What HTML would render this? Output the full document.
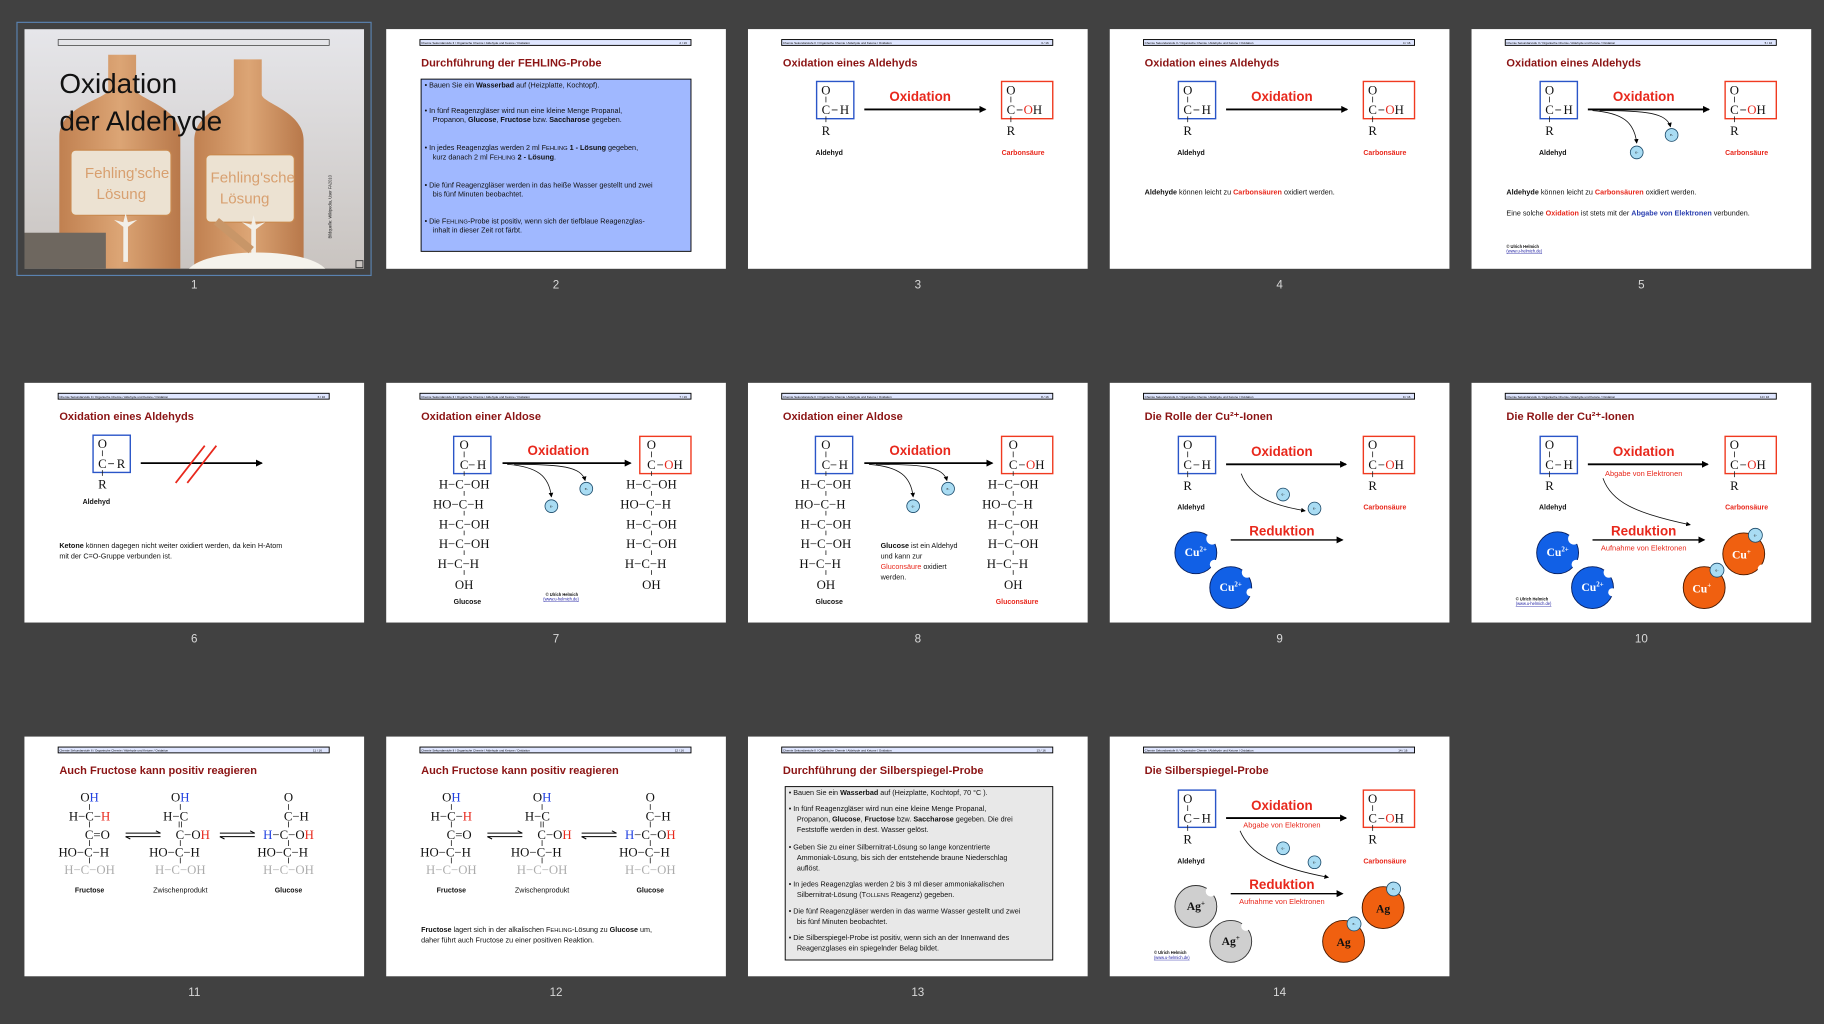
<!DOCTYPE html>
<html><head><meta charset="utf-8"><style>
html,body{margin:0;padding:0;background:#414141;overflow:hidden}
svg{display:block}
text{font-family:"Liberation Sans",sans-serif}
.m text{font-family:"Liberation Serif",serif;font-size:11px;fill:#111}
.m path,.m line{stroke:#222;stroke-width:.7;fill:none}
.t{font-size:9.5px;font-weight:bold;fill:#8b1414}
.hb{fill:#dfe6ff;stroke:#000;stroke-width:.8}
.ht{font-size:2.6px;fill:#000}
.b{font-size:6.2px;fill:#111}
.lab{font-size:6px;font-weight:bold;fill:#111}
.red{fill:#e8281c}
.lab.red{fill:#e8281c}
.blu{fill:#2a3fb0}
.ox{font-size:11.5px;font-weight:bold;fill:#e8281c}
.sub{font-size:6.4px;fill:#e8281c}
.num{font-size:10px;fill:#d8d8d8;text-anchor:middle}
.ar{stroke:#000;stroke-width:1.6;fill:none}
.cv{stroke:#111;stroke-width:.7;fill:none}
.ec{fill:#a9dcf3;stroke:#1b4a6a;stroke-width:.7}
.et{font-size:3px;fill:#222;text-anchor:middle}
.cu{fill:#1160e6;stroke:#082060;stroke-width:.8}
.cuo{fill:#f06010;stroke:#4a1a00;stroke-width:.8}
.ag{fill:#cfcfcf;stroke:#333;stroke-width:.8}
.ct{font-family:"Liberation Serif",serif;font-size:10px;font-weight:bold;text-anchor:middle}
.cp{font-size:3.5px;font-weight:bold;fill:#111}
.cl{font-size:3.5px;fill:#1a1aa0;text-decoration:underline}
.fd{opacity:.35}
</style></head><body>
<svg width="1824" height="1024" viewBox="0 0 1568 880" preserveAspectRatio="none" xmlns="http://www.w3.org/2000/svg">
<defs>
<marker id="ah" markerWidth="6" markerHeight="6" refX="5" refY="3" orient="auto" markerUnits="userSpaceOnUse"><path d="M0,0 L6,3 L0,6z" fill="#000"/></marker>
<marker id="as" markerWidth="4" markerHeight="4" refX="3.5" refY="2" orient="auto" markerUnits="userSpaceOnUse"><path d="M0,0 L4,2 L0,4z" fill="#000"/></marker>
<linearGradient id="bg1" x1="0" y1="0" x2="0" y2="1"><stop offset="0" stop-color="#e6e6ea"/><stop offset="1" stop-color="#c9c4c0"/></linearGradient>
<linearGradient id="bot" x1="0" y1="0" x2="1" y2="0"><stop offset="0" stop-color="#c08050"/><stop offset=".5" stop-color="#dca575"/><stop offset="1" stop-color="#b8784a"/></linearGradient>
<clipPath id="c1"><rect width="292" height="206"/></clipPath>
</defs>

<rect x="14.6" y="19.2" width="304.4" height="217.5" fill="none" stroke="#5a82b0" stroke-width="1"/>

<!-- SLIDE 1 -->
<g transform="translate(21,25)" clip-path="url(#c1)">
<rect width="292" height="206" fill="url(#bg1)"/>
<path d="M72 22h24v30c0 8 38 14 38 40v114H30V92c0-26 42-32 42-40z" fill="url(#bot)"/>
<path d="M180 26h24v30c0 8 36 14 36 40v110H146V96c0-26 34-32 34-40z" fill="url(#bot)"/>
<rect x="40" y="104" width="86" height="56" rx="4" fill="#ece2d2" stroke="#c98a50"/>
<rect x="156" y="108" width="76" height="58" rx="4" fill="#ece2d2" stroke="#c98a50"/>
<text x="52" y="128" font-size="13" fill="#d8a070" font-family="Liberation Serif">Fehling'sche</text>
<text x="62" y="146" font-size="13" fill="#d8a070" font-family="Liberation Serif">Lösung</text>
<text x="160" y="132" font-size="13" fill="#d8a070" font-family="Liberation Serif">Fehling'sche</text>
<text x="168" y="150" font-size="13" fill="#d8a070" font-family="Liberation Serif">Lösung</text>
<path d="M85 170l-8 -6 8 2 2-8 2 8 8-2-8 6v30h-4z" fill="#f2efe8"/>
<path d="M195 172l-8 -6 8 2 2-8 2 8 8-2-8 6v28h-4z" fill="#f2efe8"/>
<rect x="0" y="175" width="70" height="31" fill="#6e675f"/>
<ellipse cx="200" cy="210" rx="60" ry="18" fill="#f5f3ec"/>
<path d="M165 165l30 25" stroke="#c89668" stroke-width="7"/>
<rect x="29" y="9" width="233" height="5" fill="none" stroke="#333" stroke-width=".6"/>
<text x="30" y="55" font-size="24" fill="#111">Oxidation</text>
<text x="30" y="87" font-size="24" fill="#111">der Aldehyde</text>
<text transform="translate(264,180) rotate(-90)" font-size="3.5" fill="#222">Bildquelle: Wikipedia, User FA2010</text>
<rect x="285" y="199" width="6" height="6" fill="none" stroke="#333" stroke-width=".8"/>
</g>
<text class="num" x="167" y="248">1</text>

<!-- SLIDE 2 -->
<g transform="translate(332,25)">
<rect width="292" height="206" fill="#fff"/>
<rect class="hb" x="29" y="9" width="233" height="5"/><text class="ht" x="30" y="13">Chemie Sekundarstufe II / Organische Chemie / Aldehyde und Ketone / Oxidation</text><text class="ht" x="252" y="13">2 / 16</text>
<text class="t" x="30" y="32">Durchführung der FEHLING-Probe</text>
<rect x="30" y="43" width="232" height="148" fill="#a0b8ff" stroke="#000" stroke-width=".8"/>
<g class="b">
<text x="33" y="50">•  Bauen Sie ein <tspan font-weight="bold">Wasserbad</tspan> auf (Heizplatte, Kochtopf).</text>
<text x="33" y="72">•  In fünf Reagenzgläser wird nun eine kleine Menge Propanal,</text>
<text x="40" y="80">Propanon, <tspan font-weight="bold">Glucose</tspan>, <tspan font-weight="bold">Fructose</tspan> bzw. <tspan font-weight="bold">Saccharose</tspan> gegeben.</text>
<text x="33" y="104">•  In jedes Reagenzglas werden 2 ml F<tspan font-size="5">EHLING</tspan> <tspan font-weight="bold">1 - Lösung</tspan> gegeben,</text>
<text x="40" y="112">kurz danach 2 ml F<tspan font-size="5">EHLING</tspan> <tspan font-weight="bold">2 - Lösung</tspan>.</text>
<text x="33" y="136">•  Die fünf Reagenzgläser werden in das heiße Wasser gestellt und zwei</text>
<text x="40" y="144">bis fünf Minuten beobachtet.</text>
<text x="33" y="167">•  Die F<tspan font-size="5">EHLING</tspan>-Probe ist positiv, wenn sich der tiefblaue Reagenzglas-</text>
<text x="40" y="175">inhalt in dieser Zeit rot färbt.</text>
</g>
</g>
<text class="num" x="478" y="248">2</text>

<!-- SLIDE 3 -->
<g transform="translate(643,25)">
<rect width="292" height="206" fill="#fff"/>
<rect class="hb" x="29" y="9" width="233" height="5"/><text class="ht" x="30" y="13">Chemie Sekundarstufe II / Organische Chemie / Aldehyde und Ketone / Oxidation</text><text class="ht" x="252" y="13">3 / 16</text>
<text class="t" x="30" y="32">Oxidation eines Aldehyds</text>
<g class="m" transform="translate(59,45)"><rect width="32" height="32" fill="none" stroke="#2a55c8" stroke-width="1.2"/><text x="8" y="11" text-anchor="middle">O</text><path d="M8 13v5M8 30v5M13 24.5h5"/><text x="8" y="28" text-anchor="middle">C</text><text x="24" y="28" text-anchor="middle">H</text><text x="8" y="46" text-anchor="middle">R</text></g>
<g class="m" transform="translate(218,45)"><rect width="44" height="32" fill="none" stroke="#f03a20" stroke-width="1.2"/><text x="8" y="11" text-anchor="middle">O</text><path d="M8 13v5M8 30v5M13 24.5h5"/><text x="8" y="28" text-anchor="middle">C</text><text x="19" y="28"><tspan style="fill:#e8281c">O</tspan>H</text><text x="8" y="46" text-anchor="middle">R</text></g>
<line class="ar" x1="100" y1="69" x2="204" y2="69" marker-end="url(#ah)"/>
<text class="ox" x="148" y="62" text-anchor="middle">Oxidation</text>
<text class="lab" x="58" y="108">Aldehyd</text><text class="lab red" x="218" y="108">Carbonsäure</text>
</g>
<text class="num" x="789" y="248">3</text>

<!-- SLIDE 4 -->
<g transform="translate(954,25)">
<rect width="292" height="206" fill="#fff"/>
<rect class="hb" x="29" y="9" width="233" height="5"/><text class="ht" x="30" y="13">Chemie Sekundarstufe II / Organische Chemie / Aldehyde und Ketone / Oxidation</text><text class="ht" x="252" y="13">4 / 16</text>
<text class="t" x="30" y="32">Oxidation eines Aldehyds</text>
<g class="m" transform="translate(59,45)"><rect width="32" height="32" fill="none" stroke="#2a55c8" stroke-width="1.2"/><text x="8" y="11" text-anchor="middle">O</text><path d="M8 13v5M8 30v5M13 24.5h5"/><text x="8" y="28" text-anchor="middle">C</text><text x="24" y="28" text-anchor="middle">H</text><text x="8" y="46" text-anchor="middle">R</text></g>
<g class="m" transform="translate(218,45)"><rect width="44" height="32" fill="none" stroke="#f03a20" stroke-width="1.2"/><text x="8" y="11" text-anchor="middle">O</text><path d="M8 13v5M8 30v5M13 24.5h5"/><text x="8" y="28" text-anchor="middle">C</text><text x="19" y="28"><tspan style="fill:#e8281c">O</tspan>H</text><text x="8" y="46" text-anchor="middle">R</text></g>
<line class="ar" x1="100" y1="69" x2="204" y2="69" marker-end="url(#ah)"/>
<text class="ox" x="148" y="62" text-anchor="middle">Oxidation</text>
<text class="lab" x="58" y="108">Aldehyd</text><text class="lab red" x="218" y="108">Carbonsäure</text>
<text class="b" x="30" y="142"><tspan font-weight="bold">Aldehyde</tspan> können leicht zu <tspan class="red" font-weight="bold">Carbonsäuren</tspan> oxidiert werden.</text>
</g>
<text class="num" x="1100" y="248">4</text>

<!-- SLIDE 5 -->
<g transform="translate(1265,25)">
<rect width="292" height="206" fill="#fff"/>
<rect class="hb" x="29" y="9" width="233" height="5"/><text class="ht" x="30" y="13">Chemie Sekundarstufe II / Organische Chemie / Aldehyde und Ketone / Oxidation</text><text class="ht" x="252" y="13">5 / 16</text>
<text class="t" x="30" y="32">Oxidation eines Aldehyds</text>
<g class="m" transform="translate(59,45)"><rect width="32" height="32" fill="none" stroke="#2a55c8" stroke-width="1.2"/><text x="8" y="11" text-anchor="middle">O</text><path d="M8 13v5M8 30v5M13 24.5h5"/><text x="8" y="28" text-anchor="middle">C</text><text x="24" y="28" text-anchor="middle">H</text><text x="8" y="46" text-anchor="middle">R</text></g>
<g class="m" transform="translate(218,45)"><rect width="44" height="32" fill="none" stroke="#f03a20" stroke-width="1.2"/><text x="8" y="11" text-anchor="middle">O</text><path d="M8 13v5M8 30v5M13 24.5h5"/><text x="8" y="28" text-anchor="middle">C</text><text x="19" y="28"><tspan style="fill:#e8281c">O</tspan>H</text><text x="8" y="46" text-anchor="middle">R</text></g>
<line class="ar" x1="100" y1="69" x2="204" y2="69" marker-end="url(#ah)"/>
<text class="ox" x="148" y="62" text-anchor="middle">Oxidation</text>
<path class="cv" d="M104 70 C130 72 140 80 142 98" marker-end="url(#as)"/>
<path class="cv" d="M110 70 C150 70 168 72 171 84" marker-end="url(#as)"/>
<circle class="ec" cx="142" cy="106" r="5.5"/><text class="et" x="142" y="107">e-</text>
<circle class="ec" cx="172" cy="91" r="5.5"/><text class="et" x="172" y="92">e-</text>
<text class="lab" x="58" y="108">Aldehyd</text><text class="lab red" x="218" y="108">Carbonsäure</text>
<text class="b" x="30" y="142"><tspan font-weight="bold">Aldehyde</tspan> können leicht zu <tspan class="red" font-weight="bold">Carbonsäuren</tspan> oxidiert werden.</text>
<text class="b" x="30" y="160">Eine solche <tspan class="red" font-weight="bold">Oxidation</tspan> ist stets mit der <tspan class="blu" font-weight="bold">Abgabe von Elektronen</tspan> verbunden.</text>
<text class="cp" x="30" y="188">© Ulrich Helmich</text><text class="cl" x="30" y="192">(www.u-helmich.de)</text>
</g>
<text class="num" x="1411" y="248">5</text>

<!-- SLIDE 6 -->
<g transform="translate(21,329)">
<rect width="292" height="206" fill="#fff"/>
<rect class="hb" x="29" y="9" width="233" height="5"/><text class="ht" x="30" y="13">Chemie Sekundarstufe II / Organische Chemie / Aldehyde und Ketone / Oxidation</text><text class="ht" x="252" y="13">6 / 16</text>
<text class="t" x="30" y="32">Oxidation eines Aldehyds</text>
<g class="m" transform="translate(59,45)"><rect width="32" height="32" fill="none" stroke="#2a55c8" stroke-width="1.2"/><text x="8" y="11" text-anchor="middle">O</text><path d="M8 13v5M8 30v5M13 24.5h5"/><text x="8" y="28" text-anchor="middle">C</text><text x="24" y="28" text-anchor="middle">R</text><text x="8" y="46" text-anchor="middle">R</text></g>
<line class="ar" x1="100" y1="69" x2="204" y2="69" marker-end="url(#ah)"/>
<path d="M130 86L155 54M140 86L165 54" stroke="#e8281c" stroke-width="1.5"/>
<text class="lab" x="50" y="104">Aldehyd</text>
<text class="b" x="30" y="142"><tspan font-weight="bold">Ketone</tspan> können dagegen nicht weiter oxidiert werden, da kein H-Atom</text>
<text class="b" x="30" y="151">mit der C=O-Gruppe verbunden ist.</text>
</g>
<text class="num" x="167" y="552">6</text>

<!-- SLIDE 7 -->
<g transform="translate(332,329)">
<rect width="292" height="206" fill="#fff"/>
<rect class="hb" x="29" y="9" width="233" height="5"/><text class="ht" x="30" y="13">Chemie Sekundarstufe II / Organische Chemie / Aldehyde und Ketone / Oxidation</text><text class="ht" x="252" y="13">7 / 16</text>
<text class="t" x="30" y="32">Oxidation einer Aldose</text>
<g class="m" transform="translate(58,46)"><rect width="32" height="32" fill="none" stroke="#2a55c8" stroke-width="1.2"/><text x="9" y="11" text-anchor="middle">O</text><path d="M9 13v5M13 24.5h5M9 30v4M9 47v4M9 64v4M9 81v4M9 98v4M9 115v4"/><text x="9" y="28" text-anchor="middle">C</text><text x="24" y="28" text-anchor="middle">H</text>
<text x="9" y="45" text-anchor="middle">H−C−OH</text><text x="4" y="62" text-anchor="middle">HO−C−H</text><text x="9" y="79" text-anchor="middle">H−C−OH</text><text x="9" y="96" text-anchor="middle">H−C−OH</text><text x="4" y="113" text-anchor="middle">H−C−H</text><text x="9" y="131" text-anchor="middle">OH</text></g>
<g class="m" transform="translate(218,46)"><rect width="44" height="32" fill="none" stroke="#f03a20" stroke-width="1.2"/><text x="10" y="11" text-anchor="middle">O</text><path d="M10 13v5M15 24.5h5M10 30v4M10 47v4M10 64v4M10 81v4M10 98v4M10 115v4"/><text x="10" y="28" text-anchor="middle">C</text><text x="21" y="28"><tspan style="fill:#e8281c">O</tspan>H</text>
<text x="10" y="45" text-anchor="middle">H−C−OH</text><text x="5" y="62" text-anchor="middle">HO−C−H</text><text x="10" y="79" text-anchor="middle">H−C−OH</text><text x="10" y="96" text-anchor="middle">H−C−OH</text><text x="5" y="113" text-anchor="middle">H−C−H</text><text x="10" y="131" text-anchor="middle">OH</text></g>
<line class="ar" x1="100" y1="69" x2="210" y2="69" marker-end="url(#ah)"/>
<text class="ox" x="148" y="62" text-anchor="middle">Oxidation</text>
<path class="cv" d="M104 70 C130 72 140 80 142 98" marker-end="url(#as)"/>
<path class="cv" d="M110 70 C150 70 168 72 171 84" marker-end="url(#as)"/>
<circle class="ec" cx="142" cy="106" r="5.5"/><text class="et" x="142" y="107">e-</text>
<circle class="ec" cx="172" cy="91" r="5.5"/><text class="et" x="172" y="92">e-</text>
<text class="lab" x="58" y="190">Glucose</text>
<text class="cp" x="137" y="183">© Ulrich Helmich</text><text class="cl" x="135" y="187">(www.u-helmich.de)</text>
</g>
<text class="num" x="478" y="552">7</text>

<!-- SLIDE 8 -->
<g transform="translate(643,329)">
<rect width="292" height="206" fill="#fff"/>
<rect class="hb" x="29" y="9" width="233" height="5"/><text class="ht" x="30" y="13">Chemie Sekundarstufe II / Organische Chemie / Aldehyde und Ketone / Oxidation</text><text class="ht" x="252" y="13">8 / 16</text>
<text class="t" x="30" y="32">Oxidation einer Aldose</text>
<g class="m" transform="translate(58,46)"><rect width="32" height="32" fill="none" stroke="#2a55c8" stroke-width="1.2"/><text x="9" y="11" text-anchor="middle">O</text><path d="M9 13v5M13 24.5h5M9 30v4M9 47v4M9 64v4M9 81v4M9 98v4M9 115v4"/><text x="9" y="28" text-anchor="middle">C</text><text x="24" y="28" text-anchor="middle">H</text>
<text x="9" y="45" text-anchor="middle">H−C−OH</text><text x="4" y="62" text-anchor="middle">HO−C−H</text><text x="9" y="79" text-anchor="middle">H−C−OH</text><text x="9" y="96" text-anchor="middle">H−C−OH</text><text x="4" y="113" text-anchor="middle">H−C−H</text><text x="9" y="131" text-anchor="middle">OH</text></g>
<g class="m" transform="translate(218,46)"><rect width="44" height="32" fill="none" stroke="#f03a20" stroke-width="1.2"/><text x="10" y="11" text-anchor="middle">O</text><path d="M10 13v5M15 24.5h5M10 30v4M10 47v4M10 64v4M10 81v4M10 98v4M10 115v4"/><text x="10" y="28" text-anchor="middle">C</text><text x="21" y="28"><tspan style="fill:#e8281c">O</tspan>H</text>
<text x="10" y="45" text-anchor="middle">H−C−OH</text><text x="5" y="62" text-anchor="middle">HO−C−H</text><text x="10" y="79" text-anchor="middle">H−C−OH</text><text x="10" y="96" text-anchor="middle">H−C−OH</text><text x="5" y="113" text-anchor="middle">H−C−H</text><text x="10" y="131" text-anchor="middle">OH</text></g>
<line class="ar" x1="100" y1="69" x2="210" y2="69" marker-end="url(#ah)"/>
<text class="ox" x="148" y="62" text-anchor="middle">Oxidation</text>
<path class="cv" d="M104 70 C130 72 140 80 142 98" marker-end="url(#as)"/>
<path class="cv" d="M110 70 C150 70 168 72 171 84" marker-end="url(#as)"/>
<circle class="ec" cx="142" cy="106" r="5.5"/><text class="et" x="142" y="107">e-</text>
<circle class="ec" cx="172" cy="91" r="5.5"/><text class="et" x="172" y="92">e-</text>
<g class="b"><text x="114" y="142"><tspan font-weight="bold">Glucose</tspan> ist ein Aldehyd</text><text x="114" y="151">und kann zur</text><text x="114" y="160"><tspan style="fill:#e8281c">Gluconsäure</tspan> oxidiert</text><text x="114" y="169">werden.</text></g>
<text class="lab" x="58" y="190">Glucose</text><text class="lab red" x="213" y="190">Gluconsäure</text>
</g>
<text class="num" x="789" y="552">8</text>

<!-- SLIDE 9 -->
<g transform="translate(954,329)">
<rect width="292" height="206" fill="#fff"/>
<rect class="hb" x="29" y="9" width="233" height="5"/><text class="ht" x="30" y="13">Chemie Sekundarstufe II / Organische Chemie / Aldehyde und Ketone / Oxidation</text><text class="ht" x="252" y="13">9 / 16</text>
<text class="t" x="30" y="32">Die Rolle der Cu²⁺-Ionen</text>
<g class="m" transform="translate(59,46)"><rect width="32" height="32" fill="none" stroke="#2a55c8" stroke-width="1.2"/><text x="8" y="11" text-anchor="middle">O</text><path d="M8 13v5M8 30v5M13 24.5h5"/><text x="8" y="28" text-anchor="middle">C</text><text x="24" y="28" text-anchor="middle">H</text><text x="8" y="46" text-anchor="middle">R</text></g>
<g class="m" transform="translate(218,46)"><rect width="44" height="32" fill="none" stroke="#f03a20" stroke-width="1.2"/><text x="8" y="11" text-anchor="middle">O</text><path d="M8 13v5M8 30v5M13 24.5h5"/><text x="8" y="28" text-anchor="middle">C</text><text x="19" y="28"><tspan style="fill:#e8281c">O</tspan>H</text><text x="8" y="46" text-anchor="middle">R</text></g>
<line class="ar" x1="100" y1="70" x2="203" y2="70" marker-end="url(#ah)"/>
<text class="ox" x="148" y="63" text-anchor="middle">Oxidation</text>
<text class="lab" x="58" y="109">Aldehyd</text><text class="lab red" x="218" y="109">Carbonsäure</text>
<path class="cv" d="M113 78 C120 98 140 105 168 110" marker-end="url(#as)"/>
<circle class="ec" cx="149" cy="96" r="5.5"/><text class="et" x="149" y="97">e-</text>
<circle class="ec" cx="176" cy="108" r="5.5"/><text class="et" x="176" y="109">e-</text>
<line x1="104" y1="135" x2="200" y2="135" stroke="#000" stroke-width="1.2" marker-end="url(#ah)"/>
<text class="ox" x="148" y="131" text-anchor="middle">Reduktion</text>
<circle class="cu" cx="74" cy="146" r="18"/><circle cx="88" cy="134" r="5" fill="#fff"/><circle cx="90" cy="156" r="4" fill="#fff"/><text class="ct" x="74" y="149" fill="#fff">Cu<tspan font-size="6" dy="-4">2+</tspan></text>
<circle class="cu" cx="104" cy="176" r="18"/><circle cx="118" cy="163" r="4.5" fill="#fff"/><circle cx="121" cy="180" r="3.5" fill="#fff"/><text class="ct" x="104" y="179" fill="#fff">Cu<tspan font-size="6" dy="-4">2+</tspan></text>
</g>
<text class="num" x="1100" y="552">9</text>

<!-- SLIDE 10 -->
<g transform="translate(1265,329)">
<rect width="292" height="206" fill="#fff"/>
<rect class="hb" x="29" y="9" width="233" height="5"/><text class="ht" x="30" y="13">Chemie Sekundarstufe II / Organische Chemie / Aldehyde und Ketone / Oxidation</text><text class="ht" x="248" y="13">10 / 16</text>
<text class="t" x="30" y="32">Die Rolle der Cu²⁺-Ionen</text>
<g class="m" transform="translate(59,46)"><rect width="32" height="32" fill="none" stroke="#2a55c8" stroke-width="1.2"/><text x="8" y="11" text-anchor="middle">O</text><path d="M8 13v5M8 30v5M13 24.5h5"/><text x="8" y="28" text-anchor="middle">C</text><text x="24" y="28" text-anchor="middle">H</text><text x="8" y="46" text-anchor="middle">R</text></g>
<g class="m" transform="translate(218,46)"><rect width="44" height="32" fill="none" stroke="#f03a20" stroke-width="1.2"/><text x="8" y="11" text-anchor="middle">O</text><path d="M8 13v5M8 30v5M13 24.5h5"/><text x="8" y="28" text-anchor="middle">C</text><text x="19" y="28"><tspan style="fill:#e8281c">O</tspan>H</text><text x="8" y="46" text-anchor="middle">R</text></g>
<line class="ar" x1="100" y1="70" x2="203" y2="70" marker-end="url(#ah)"/>
<text class="ox" x="148" y="63" text-anchor="middle">Oxidation</text>
<text class="sub" x="148" y="80" text-anchor="middle">Abgabe von Elektronen</text>
<text class="lab" x="58" y="109">Aldehyd</text><text class="lab red" x="218" y="109">Carbonsäure</text>
<path class="cv" d="M113 82 C120 102 140 112 188 122" marker-end="url(#as)"/>
<line x1="104" y1="135" x2="200" y2="135" stroke="#000" stroke-width="1.2" marker-end="url(#ah)"/>
<text class="ox" x="148" y="131" text-anchor="middle">Reduktion</text>
<text class="sub" x="148" y="144" text-anchor="middle">Aufnahme von Elektronen</text>
<circle class="cu" cx="74" cy="146" r="18"/><circle cx="88" cy="134" r="5" fill="#fff"/><circle cx="90" cy="156" r="4" fill="#fff"/><text class="ct" x="74" y="149" fill="#fff">Cu<tspan font-size="6" dy="-4">2+</tspan></text>
<circle class="cu" cx="104" cy="176" r="18"/><circle cx="118" cy="163" r="4.5" fill="#fff"/><circle cx="121" cy="180" r="3.5" fill="#fff"/><text class="ct" x="104" y="179" fill="#fff">Cu<tspan font-size="6" dy="-4">2+</tspan></text>
<circle class="cuo" cx="234" cy="147" r="18"/><circle cx="250" cy="160" r="4" fill="#fff"/><text class="ct" x="232" y="151" fill="#fff">Cu<tspan font-size="6" dy="-4">+</tspan></text>
<circle class="ec" cx="244" cy="131" r="6"/><text class="et" x="244" y="132">e-</text>
<circle class="cuo" cx="200" cy="176" r="18"/><text class="ct" x="198" y="180" fill="#fff">Cu<tspan font-size="6" dy="-4">+</tspan></text>
<circle class="ec" cx="211" cy="161" r="6"/><text class="et" x="211" y="162">e-</text>
<text class="cp" x="38" y="187">© Ulrich Helmich</text><text class="cl" x="38" y="191">(www.u-helmich.de)</text>
</g>
<text class="num" x="1411" y="552">10</text>

<!-- SLIDE 11 -->
<g transform="translate(21,633)">
<rect width="292" height="206" fill="#fff"/>
<rect class="hb" x="29" y="9" width="233" height="5"/><text class="ht" x="30" y="13">Chemie Sekundarstufe II / Organische Chemie / Aldehyde und Ketone / Oxidation</text><text class="ht" x="248" y="13">11 / 16</text>
<text class="t" x="30" y="32">Auch Fructose kann positiv reagieren</text>
<g class="m">
<path d="M56 58v5M56 73v5M56 89v5M56 104v5M134 58v5M133 73v5M135 73v5M134 89v5M134 104v5M227 58v5M227 73v5M227 89v5M227 104v5"/>
<text x="56" y="56" text-anchor="middle">O<tspan style="fill:#2040e0">H</tspan></text>
<text x="56" y="72" text-anchor="middle">H−C−<tspan style="fill:#e8281c">H</tspan></text>
<text x="52" y="88">C=O</text>
<text x="51" y="103" text-anchor="middle">HO−C−H</text>
<text x="56" y="118" text-anchor="middle" class="fd">H−C−OH</text>
<text x="134" y="56" text-anchor="middle">O<tspan style="fill:#2040e0">H</tspan></text>
<text x="130" y="72" text-anchor="middle">H−C</text>
<text x="130" y="88">C−O<tspan style="fill:#e8281c">H</tspan></text>
<text x="129" y="103" text-anchor="middle">HO−C−H</text>
<text x="134" y="118" text-anchor="middle" class="fd">H−C−OH</text>
<text x="227" y="56" text-anchor="middle">O</text>
<text x="223" y="72">C−H</text>
<text x="227" y="88" text-anchor="middle"><tspan style="fill:#2040e0">H</tspan>−C−O<tspan style="fill:#e8281c">H</tspan></text>
<text x="222" y="103" text-anchor="middle">HO−C−H</text>
<text x="227" y="118" text-anchor="middle" class="fd">H−C−OH</text>
</g>
<path d="M87 83h30M87 86h30M168 83h30M168 86h30" stroke="#000" stroke-width=".9"/>
<path d="M113 81l4 2M91 88l-4-2M194 81l4 2M172 88l-4-2" stroke="#000" stroke-width=".9"/>
<text class="lab" x="56" y="134" text-anchor="middle">Fructose</text>
<text class="b" x="134" y="134" text-anchor="middle">Zwischenprodukt</text>
<text class="lab" x="227" y="134" text-anchor="middle">Glucose</text>
</g>
<text class="num" x="167" y="856">11</text>

<!-- SLIDE 12 -->
<g transform="translate(332,633)">
<rect width="292" height="206" fill="#fff"/>
<rect class="hb" x="29" y="9" width="233" height="5"/><text class="ht" x="30" y="13">Chemie Sekundarstufe II / Organische Chemie / Aldehyde und Ketone / Oxidation</text><text class="ht" x="248" y="13">12 / 16</text>
<text class="t" x="30" y="32">Auch Fructose kann positiv reagieren</text>
<g class="m">
<path d="M56 58v5M56 73v5M56 89v5M56 104v5M134 58v5M133 73v5M135 73v5M134 89v5M134 104v5M227 58v5M227 73v5M227 89v5M227 104v5"/>
<text x="56" y="56" text-anchor="middle">O<tspan style="fill:#2040e0">H</tspan></text>
<text x="56" y="72" text-anchor="middle">H−C−<tspan style="fill:#e8281c">H</tspan></text>
<text x="52" y="88">C=O</text>
<text x="51" y="103" text-anchor="middle">HO−C−H</text>
<text x="56" y="118" text-anchor="middle" class="fd">H−C−OH</text>
<text x="134" y="56" text-anchor="middle">O<tspan style="fill:#2040e0">H</tspan></text>
<text x="130" y="72" text-anchor="middle">H−C</text>
<text x="130" y="88">C−O<tspan style="fill:#e8281c">H</tspan></text>
<text x="129" y="103" text-anchor="middle">HO−C−H</text>
<text x="134" y="118" text-anchor="middle" class="fd">H−C−OH</text>
<text x="227" y="56" text-anchor="middle">O</text>
<text x="223" y="72">C−H</text>
<text x="227" y="88" text-anchor="middle"><tspan style="fill:#2040e0">H</tspan>−C−O<tspan style="fill:#e8281c">H</tspan></text>
<text x="222" y="103" text-anchor="middle">HO−C−H</text>
<text x="227" y="118" text-anchor="middle" class="fd">H−C−OH</text>
</g>
<path d="M87 83h30M87 86h30M168 83h30M168 86h30" stroke="#000" stroke-width=".9"/>
<path d="M113 81l4 2M91 88l-4-2M194 81l4 2M172 88l-4-2" stroke="#000" stroke-width=".9"/>
<text class="lab" x="56" y="134" text-anchor="middle">Fructose</text>
<text class="b" x="134" y="134" text-anchor="middle">Zwischenprodukt</text>
<text class="lab" x="227" y="134" text-anchor="middle">Glucose</text>
<text class="b" x="30" y="168"><tspan font-weight="bold">Fructose</tspan> lagert sich in der alkalischen F<tspan font-size="5">EHLING</tspan>-Lösung zu <tspan font-weight="bold">Glucose</tspan> um,</text>
<text class="b" x="30" y="177">daher führt auch Fructose zu einer positiven Reaktion.</text>
</g>
<text class="num" x="478" y="856">12</text>

<!-- SLIDE 13 -->
<g transform="translate(643,633)">
<rect width="292" height="206" fill="#fff"/>
<rect class="hb" x="29" y="9" width="233" height="5"/><text class="ht" x="30" y="13">Chemie Sekundarstufe II / Organische Chemie / Aldehyde und Ketone / Oxidation</text><text class="ht" x="248" y="13">13 / 16</text>
<text class="t" x="30" y="32">Durchführung der Silberspiegel-Probe</text>
<rect x="32" y="43" width="230" height="149" fill="#e8e8e8" stroke="#000" stroke-width=".8"/>
<g class="b">
<text x="35" y="50">•  Bauen Sie ein <tspan font-weight="bold">Wasserbad</tspan> auf (Heizplatte, Kochtopf, 70 °C ).</text>
<text x="35" y="64">•  In fünf Reagenzgläser wird nun eine kleine Menge Propanal,</text>
<text x="42" y="73">Propanon, <tspan font-weight="bold">Glucose</tspan>, <tspan font-weight="bold">Fructose</tspan> bzw. <tspan font-weight="bold">Saccharose</tspan> gegeben. Die drei</text>
<text x="42" y="82">Feststoffe werden in dest. Wasser gelöst.</text>
<text x="35" y="97">•  Geben Sie zu einer Silbernitrat-Lösung so lange konzentrierte</text>
<text x="42" y="106">Ammoniak-Lösung, bis sich der entstehende braune Niederschlag</text>
<text x="42" y="115">auflöst.</text>
<text x="35" y="129">•  In jedes Reagenzglas werden 2 bis 3 ml dieser ammoniakalischen</text>
<text x="42" y="138">Silbernitrat-Lösung (T<tspan font-size="5">OLLENS</tspan> Reagenz) gegeben.</text>
<text x="35" y="152">•  Die fünf Reagenzgläser werden in das warme Wasser gestellt und zwei</text>
<text x="42" y="161">bis fünf Minuten beobachtet.</text>
<text x="35" y="175">•  Die Silberspiegel-Probe ist positiv, wenn sich an der Innenwand des</text>
<text x="42" y="184">Reagenzglases ein spiegelnder Belag bildet.</text>
</g>
</g>
<text class="num" x="789" y="856">13</text>

<!-- SLIDE 14 -->
<g transform="translate(954,633)">
<rect width="292" height="206" fill="#fff"/>
<rect class="hb" x="29" y="9" width="233" height="5"/><text class="ht" x="30" y="13">Chemie Sekundarstufe II / Organische Chemie / Aldehyde und Ketone / Oxidation</text><text class="ht" x="248" y="13">14 / 16</text>
<text class="t" x="30" y="32">Die Silberspiegel-Probe</text>
<g class="m" transform="translate(59,46)"><rect width="32" height="32" fill="none" stroke="#2a55c8" stroke-width="1.2"/><text x="8" y="11" text-anchor="middle">O</text><path d="M8 13v5M8 30v5M13 24.5h5"/><text x="8" y="28" text-anchor="middle">C</text><text x="24" y="28" text-anchor="middle">H</text><text x="8" y="46" text-anchor="middle">R</text></g>
<g class="m" transform="translate(218,46)"><rect width="44" height="32" fill="none" stroke="#f03a20" stroke-width="1.2"/><text x="8" y="11" text-anchor="middle">O</text><path d="M8 13v5M8 30v5M13 24.5h5"/><text x="8" y="28" text-anchor="middle">C</text><text x="19" y="28"><tspan style="fill:#e8281c">O</tspan>H</text><text x="8" y="46" text-anchor="middle">R</text></g>
<line class="ar" x1="100" y1="70" x2="203" y2="70" marker-end="url(#ah)"/>
<text class="ox" x="148" y="63" text-anchor="middle">Oxidation</text>
<text class="sub" x="148" y="78" text-anchor="middle">Abgabe von Elektronen</text>
<text class="lab" x="58" y="109">Aldehyd</text><text class="lab red" x="218" y="109">Carbonsäure</text>
<path class="cv" d="M112 81 C120 100 140 112 188 121" marker-end="url(#as)"/>
<circle class="ec" cx="149" cy="96" r="5.5"/><text class="et" x="149" y="97">e-</text>
<circle class="ec" cx="176" cy="108" r="5.5"/><text class="et" x="176" y="109">e-</text>
<line x1="104" y1="135" x2="200" y2="135" stroke="#000" stroke-width="1.2" marker-end="url(#ah)"/>
<text class="ox" x="148" y="131" text-anchor="middle">Reduktion</text>
<text class="sub" x="148" y="144" text-anchor="middle">Aufnahme von Elektronen</text>
<circle class="ag" cx="74" cy="146" r="18"/><circle cx="87" cy="133" r="4.5" fill="#fff"/><text class="ct" x="74" y="149" fill="#111">Ag<tspan font-size="6" dy="-4">+</tspan></text>
<circle class="ag" cx="104" cy="176" r="18"/><circle cx="117" cy="163" r="4" fill="#fff"/><text class="ct" x="104" y="179" fill="#111">Ag<tspan font-size="6" dy="-4">+</tspan></text>
<circle class="cuo" cx="235" cy="147" r="18"/><text class="ct" x="235" y="151" fill="#111">Ag</text>
<circle class="ec" cx="244" cy="131" r="6"/><text class="et" x="244" y="132">e-</text>
<circle class="cuo" cx="201" cy="176" r="18"/><text class="ct" x="201" y="180" fill="#111">Ag</text>
<circle class="ec" cx="210" cy="161" r="6"/><text class="et" x="210" y="162">e-</text>
<text class="cp" x="38" y="187">© Ulrich Helmich</text><text class="cl" x="38" y="191">(www.u-helmich.de)</text>
</g>
<text class="num" x="1100" y="856">14</text>
</svg>
</body></html>
